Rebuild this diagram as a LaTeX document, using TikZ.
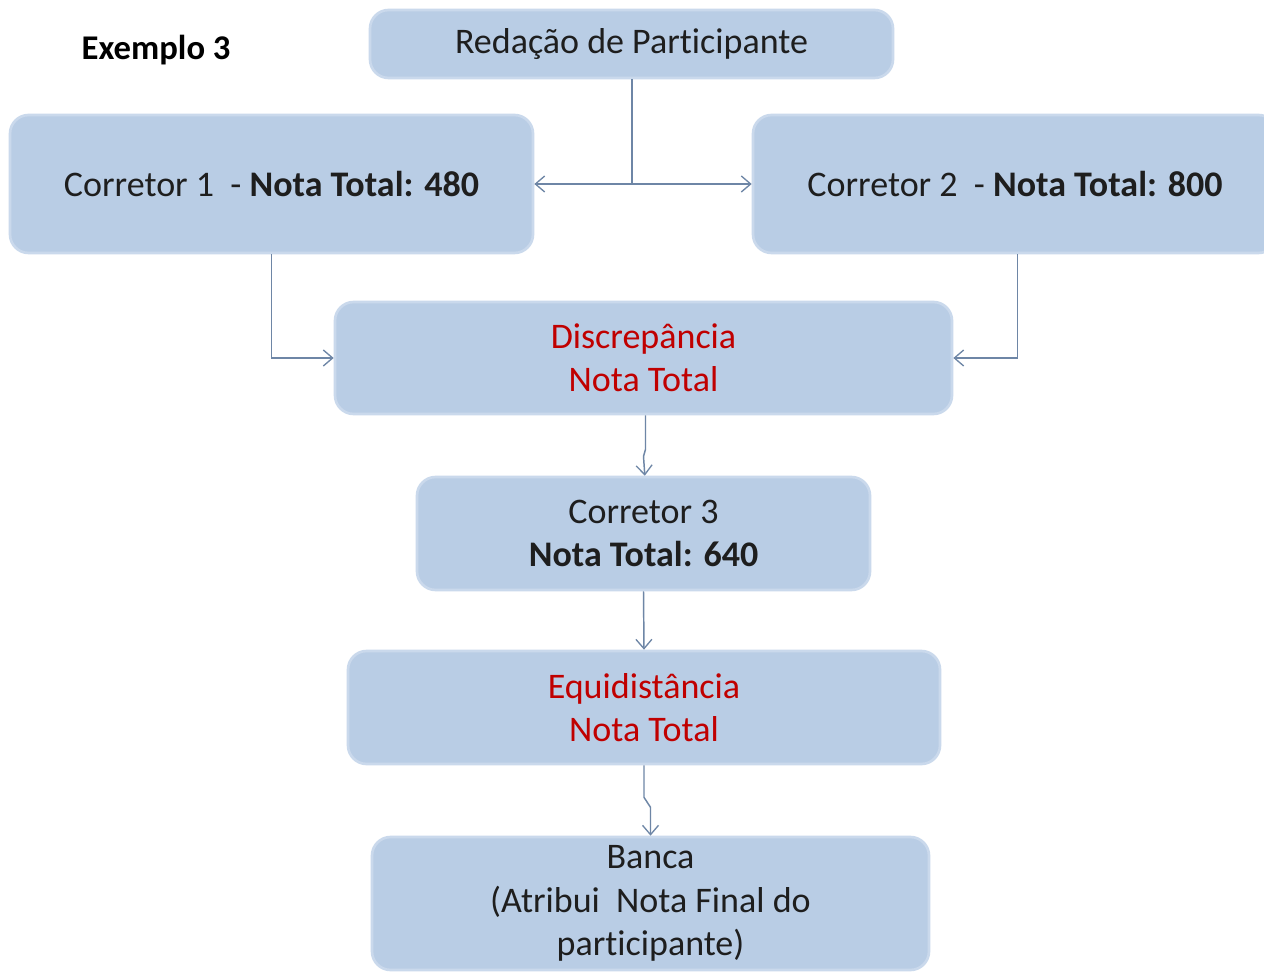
\documentclass[tikz,border=0pt]{standalone}
\usepackage{fontspec}
\setmainfont{Carlito}[Ligatures=NoCommon]
\usetikzlibrary{arrows.meta}
\definecolor{boxfill}{HTML}{B9CDE5}
\definecolor{boxedge}{HTML}{CAD9EC}
\definecolor{linecol}{HTML}{6E86A6}
\definecolor{txt}{HTML}{1E1E1E}
\definecolor{redtxt}{HTML}{C00000}
\begin{document}
\begin{tikzpicture}[x=0.75pt,y=-0.75pt,
  box/.style={rectangle, rounded corners=14pt, fill=boxfill, draw=boxedge, line width=2pt,
    align=center, text=txt, font=\fontsize{27}{32.6}\selectfont, inner sep=0pt},
  conn/.style={draw=linecol, line width=1.1pt},
  tip/.style={-{Straight Barb[length=7pt,width=12pt,line width=1pt]}}]
\useasboundingbox (0,0) rectangle (1264,973);
\fill[white] (0,0) rectangle (1264,973);
\node[anchor=west, font=\fontsize{26}{31}\selectfont\bfseries, text=black] (title) at (77,50) {Exemplo 3};
\node[box, minimum width={523*0.75pt}, minimum height={68*0.75pt}] (A) at (631.5,44) {Redação de Participante};
\node[box, minimum width={523*0.75pt}, minimum height={138*0.75pt}] (C1) at (271.5,184) {Corretor 1\ \ - \textbf{Nota Total: 480}};
\node[box, minimum width={524*0.75pt}, minimum height={138*0.75pt}] (C2) at (1015,184) {Corretor 2\ \ - \textbf{Nota Total: 800}};
\node[box, minimum width={617*0.75pt}, minimum height={112*0.75pt}, text=redtxt] (D) at (643.5,358) {Discrepância\\Nota Total};
\node[box, minimum width={453*0.75pt}, minimum height={113*0.75pt}] (C3) at (643.5,533.5) {Corretor 3\\\textbf{Nota Total: 640}};
\node[box, minimum width={592*0.75pt}, minimum height={113*0.75pt}, text=redtxt] (E) at (644,707.5) {Equidistância\\Nota Total};
\node[box, minimum width={557*0.75pt}, minimum height={133*0.75pt}] (B) at (650.5,903.5) {Banca\\(Atribui\ \ Nota Final do\\participante)};
\coordinate (j) at (632,184);
\draw[conn] (A.south -| j) -- (j);
\draw[conn,tip] (j) -- (C1.east);
\draw[conn,tip] (j) -- (C2.west);
\draw[conn,tip] (C1.south) |- (D.west);
\draw[conn,tip] ([xshift=2pt]C2.south) |- (D.east);
\draw[conn,tip] ([xshift=1.5pt]D.south) -- ++(0,34) -- ++(-2,7) -- ([xshift=1pt]C3.north);
\draw[conn,tip] (C3.south) -- (E.north);
\draw[conn,tip] (E.south) -- ++(0,32) -- ++(6.5,10) -- (B.north);
\end{tikzpicture}
\end{document}
